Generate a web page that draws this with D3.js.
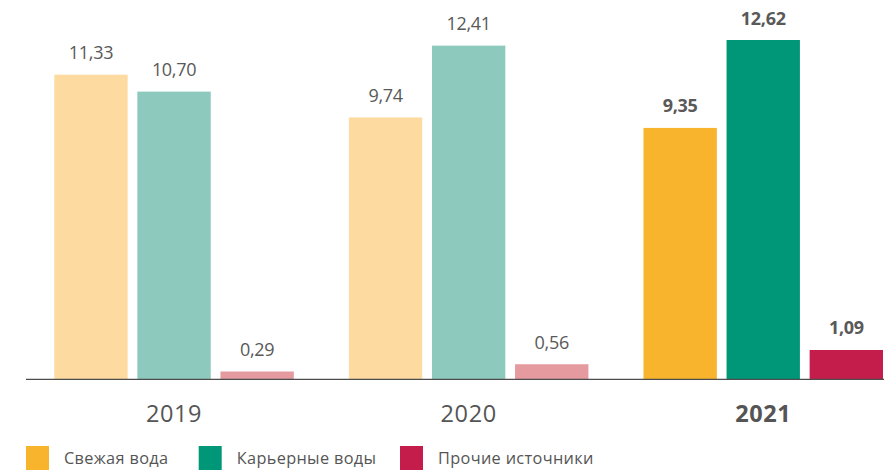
<!DOCTYPE html>
<html>
<head>
<meta charset="utf-8">
<script src="https://cdn.jsdelivr.net/npm/d3@7"></script>
<style>
  html, body { margin: 0; padding: 0; background: #fff; }
  svg { display: block; font-family: "Open Sans", "DejaVu Sans", sans-serif; }
</style>
</head>
<body>
<svg id="chart" width="884" height="470"></svg>
<script>
// Water intake by source, by year
const years = ["2019", "2020", "2021"];
const seriesNames = ["Свежая вода", "Карьерные воды", "Прочие источники"];
const freshWater = [11.33, 9.74, 9.35];
const quarryWater = [10.70, 12.41, 12.62];
const otherSources = [0.29, 0.56, 1.09];
const valueLabels = [
  ["11,33", "9,74", "9,35"],
  ["10,70", "12,41", "12,62"],
  ["0,29", "0,56", "1,09"]
];

// colours: muted tints for earlier years, full tones for the latest year
const fullColors = ["#F8B42C", "#009779", "#C51D4B"];
const tintColors = ["#FDDBA0", "#8DCABD", "#E49A9F"];
const highlightYear = "2021";

const seriesValues = [freshWater, quarryWater, otherSources];

const svg = d3.select("#chart");
const baseline = 379.3;

const x0 = d3.scaleBand().domain(years).range([54.3, 883]).paddingInner(0.187).paddingOuter(0);
const x1 = d3.scaleBand().domain(d3.range(seriesNames.length)).range([0, x0.bandwidth()]).paddingInner(0.117).paddingOuter(0);
const y = d3.scaleLinear().domain([0, 12.62]).range([baseline, 40]);

const groups = svg.selectAll("g.year")
  .data(years)
  .join("g")
  .attr("class", "year")
  .attr("transform", d => `translate(${x0(d)},0)`);

groups.each(function(year, yi) {
  const g = d3.select(this);
  const hl = year === highlightYear;
  const items = seriesNames.map((s, si) => ({ si, v: seriesValues[si][yi], label: valueLabels[si][yi] }));
  g.selectAll("rect")
    .data(items)
    .join("rect")
    .attr("x", d => x1(d.si))
    .attr("width", x1.bandwidth())
    .attr("y", d => y(d.v))
    .attr("height", d => baseline - y(d.v))
    .attr("fill", d => hl ? fullColors[d.si] : tintColors[d.si]);
  g.selectAll("text")
    .data(items)
    .join("text")
    .attr("x", d => x1(d.si) + x1.bandwidth() / 2)
    .attr("y", d => y(d.v) - 15.5)
    .attr("text-anchor", "middle")
    .attr("font-size", 18)
    .attr("font-weight", hl ? 700 : 400)
    .attr("fill", "#595959")
    .attr("letter-spacing", -0.3)
    .text(d => d.label);
});

// baseline axis with year labels
const xAxis = d3.axisBottom(x0).tickSize(0).tickPadding(0);
const axisG = svg.append("g").attr("transform", `translate(0,${baseline})`).call(xAxis);
axisG.select(".domain").attr("d", `M26,0H884`).attr("stroke", "#4d4d4d").attr("stroke-width", 1.3);
axisG.selectAll(".tick text")
  .attr("y", 43)
  .attr("dy", 0)
  .attr("font-size", 23.5)
  .attr("letter-spacing", 0.6)
  .attr("font-family", "\"Open Sans\", sans-serif")
  .attr("fill", "#555")
  .attr("font-weight", d => d === highlightYear ? 700 : 400);

// legend
const legendX = [26, 198.7, 400];
const legend = svg.append("g").selectAll("g")
  .data(seriesNames)
  .join("g")
  .attr("transform", (d, i) => `translate(${legendX[i]},446)`);
legend.append("rect").attr("width", 23).attr("height", 24).attr("fill", (d, i) => fullColors[i]);
legend.append("text")
  .attr("x", 38)
  .attr("y", 17.5)
  .attr("font-size", 16.3)
  .attr("letter-spacing", 0.35)
  .attr("fill", "#555")
  .text(d => d);
</script>
</body>
</html>
